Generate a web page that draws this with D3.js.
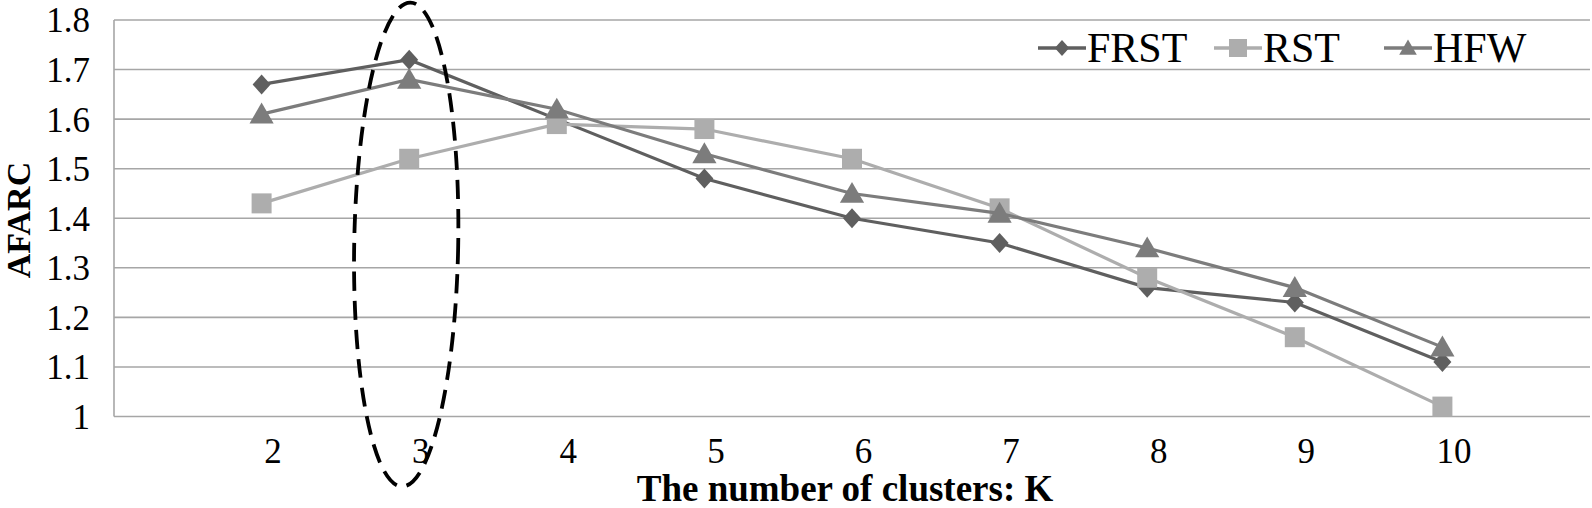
<!DOCTYPE html>
<html>
<head>
<meta charset="utf-8">
<script src="https://cdn.jsdelivr.net/npm/d3@7"></script>
<style>
  body { margin: 0; background: #fff; }
  text { font-family: "Liberation Serif", "Times New Roman", serif; fill: #000; }
</style>
</head>
<body>
<div id="chart"></div>
<script>
var categories = [2, 3, 4, 5, 6, 7, 8, 9, 10];
var frst = [1.67, 1.72, 1.60, 1.48, 1.40, 1.35, 1.26, 1.23, 1.11];
var rst  = [1.43, 1.52, 1.59, 1.58, 1.52, 1.42, 1.28, 1.16, 1.02];
var hfw  = [1.61, 1.68, 1.62, 1.53, 1.45, 1.41, 1.34, 1.26, 1.14];
var yTicks = [1, 1.1, 1.2, 1.3, 1.4, 1.5, 1.6, 1.7, 1.8];

var series = [
    {name: 'FRST', values: frst, color: '#5f5f5f', shape: 'diamond'},
    {name: 'RST',  values: rst,  color: '#adadad', shape: 'square'},
    {name: 'HFW',  values: hfw,  color: '#7c7c7c', shape: 'triangle'}
];

var width = 1592, height = 508;
var plotLeft = 114, plotRight = 1590, plotTop = 20, plotBottom = 416.5;

var svg = d3.select('#chart')
    .append('svg')
    .attr('width', width)
    .attr('height', height);

// categories sit one slot in from each edge of the plot
var x = d3.scaleLinear().domain([1, 11]).range([plotLeft, plotRight]);
var y = d3.scaleLinear().domain([1, 1.8]).range([plotBottom, plotTop]);

// gridlines
svg.append('g')
    .selectAll('line')
    .data(yTicks)
    .join('line')
    .attr('x1', plotLeft)
    .attr('x2', plotRight)
    .attr('y1', function(d) { return y(d); })
    .attr('y2', function(d) { return y(d); })
    .attr('stroke', '#a6a6a6')
    .attr('stroke-width', 1.6);

// left axis line
svg.append('line')
    .attr('x1', plotLeft).attr('x2', plotLeft)
    .attr('y1', plotTop).attr('y2', plotBottom)
    .attr('stroke', '#a6a6a6')
    .attr('stroke-width', 1.6);

// y axis
var yAxis = svg.append('g')
    .attr('transform', 'translate(' + plotLeft + ',0)')
    .call(d3.axisLeft(y).tickValues(yTicks).tickSize(0).tickPadding(24)
        .tickFormat(function(d) { return d === 1 ? '1' : d3.format('.1f')(d); }));
yAxis.select('.domain').remove();
yAxis.selectAll('text')
    .attr('dy', '0.34em')
    .style('font-family', '"Liberation Serif", serif')
    .style('font-size', '35px')
    .attr('fill', '#000');

// x axis
var xAxis = svg.append('g')
    .attr('transform', 'translate(11,' + plotBottom + ')')
    .call(d3.axisBottom(x).tickValues(categories).tickSize(0)
        .tickFormat(d3.format('d')));
xAxis.select('.domain').remove();
xAxis.selectAll('text')
    .attr('dy', null)
    .attr('y', 463 - plotBottom)
    .style('font-family', '"Liberation Serif", serif')
    .style('font-size', '35px')
    .attr('fill', '#000');

function shapePath(shape, s) {
    if (shape === 'diamond') {
        return 'M0,' + (-s) + 'L' + (s * 0.9) + ',0L0,' + s + 'L' + (-s * 0.9) + ',0Z';
    }
    if (shape === 'square') {
        return 'M' + (-s) + ',' + (-s) + 'H' + s + 'V' + s + 'H' + (-s) + 'Z';
    }
    return 'M0,' + (-s * 1.05) + 'L' + (s * 1.1) + ',' + (s * 0.85) + 'L' + (-s * 1.1) + ',' + (s * 0.85) + 'Z';
}

var line = d3.line()
    .x(function(d, i) { return x(categories[i]); })
    .y(function(d) { return y(d); });

var sizes = {diamond: 10, square: 10, triangle: 11};

series.forEach(function(s) {
    var g = svg.append('g');
    g.append('path')
        .attr('d', line(s.values))
        .attr('fill', 'none')
        .attr('stroke', s.color)
        .attr('stroke-width', 3.2);
    g.selectAll('path.mark')
        .data(s.values)
        .join('path')
        .attr('class', 'mark')
        .attr('d', shapePath(s.shape, sizes[s.shape]))
        .attr('fill', s.color)
        .attr('transform', function(d, i) {
            return 'translate(' + x(categories[i]) + ',' + y(d) + ')';
        });
});

// legend
var legendX = [1038, 1214, 1384];
var legend = svg.append('g')
    .selectAll('g')
    .data(series)
    .join('g')
    .attr('transform', function(d, i) { return 'translate(' + legendX[i] + ',48)'; });
legend.append('line')
    .attr('x1', 0).attr('x2', 48)
    .attr('stroke', function(d) { return d.color; })
    .attr('stroke-width', 3.5);
legend.append('path')
    .attr('d', function(d) { return shapePath(d.shape, d.shape === 'square' ? 9 : 8); })
    .attr('fill', function(d) { return d.color; })
    .attr('transform', 'translate(24,0)');
legend.append('text')
    .attr('x', 49)
    .attr('y', 14)
    .style('font-size', '42px')
    .text(function(d) { return d.name; });

// dashed ellipse round K = 3
svg.append('ellipse')
    .attr('cx', 0)
    .attr('cy', 0)
    .attr('rx', 52)
    .attr('ry', 242)
    .attr('fill', 'none')
    .attr('stroke', '#000')
    .attr('stroke-width', 3.8)
    .attr('stroke-dasharray', '19,10')
    .attr('transform', 'translate(' + (x(3) - 3) + ',244.5) rotate(1)');

// axis titles
svg.append('text')
    .attr('x', 845)
    .attr('y', 501)
    .attr('text-anchor', 'middle')
    .style('font-size', '37px')
    .style('font-weight', 'bold')
    .text('The number of clusters: K');

svg.append('text')
    .attr('transform', 'translate(30,220) rotate(-90)')
    .attr('text-anchor', 'middle')
    .style('font-size', '34px')
    .style('font-weight', 'bold')
    .text('AFARC');
</script>
</body>
</html>
